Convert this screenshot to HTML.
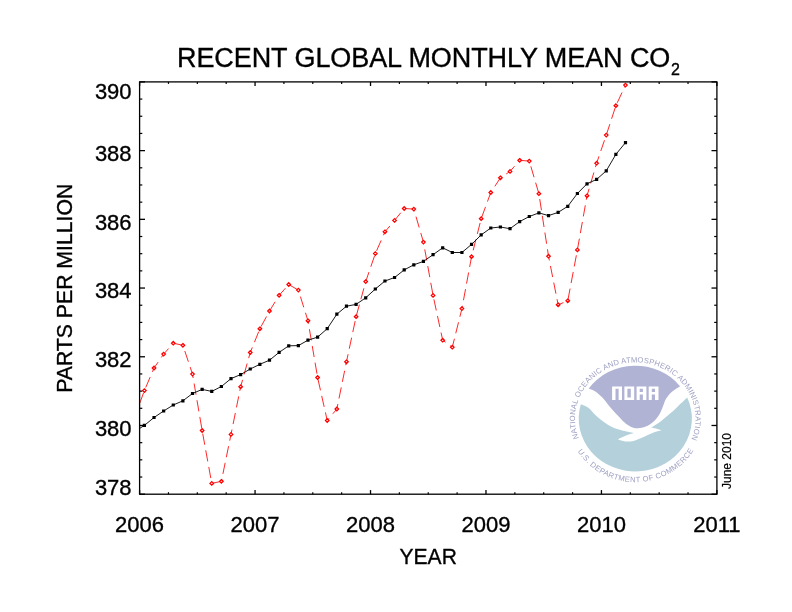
<!DOCTYPE html>
<html><head><meta charset="utf-8"><style>
html,body{margin:0;padding:0;background:#fff;}
svg{display:block;will-change:transform;}
</style></head><body>
<svg width="792" height="612" viewBox="0 0 792 612" font-family="Liberation Sans, sans-serif">
<rect width="792" height="612" fill="#fff"/>
<text x="177.0" y="67.2" font-size="27" letter-spacing="-0.08" fill="#000" stroke="#000" stroke-width="0.35">RECENT GLOBAL MONTHLY MEAN CO<tspan font-size="16" dy="7.8" dx="0.6">2</tspan></text>
<g>
<path d="M580.80 404.28C582.05 404.87 585.70 405.85 588.30 407.80C590.90 409.75 593.68 413.55 596.40 416.00C599.12 418.45 602.00 420.68 604.60 422.50C607.20 424.32 609.20 425.60 612.00 426.90C614.80 428.20 617.77 429.28 621.40 430.30C625.03 431.32 631.73 432.55 633.80 433.00C632.50 433.43 628.63 434.53 626.00 435.60C623.37 436.67 619.33 438.77 618.00 439.40C619.20 439.73 622.62 441.13 625.20 441.40C627.78 441.67 630.53 441.68 633.50 441.00C636.47 440.32 639.83 438.63 643.00 437.30C646.17 435.97 649.40 434.17 652.50 433.00C655.60 431.83 660.08 430.75 661.60 430.30C660.67 430.02 657.78 429.03 656.00 428.60C654.22 428.17 651.75 427.85 650.90 427.70C652.28 426.82 656.48 424.37 659.20 422.40C661.92 420.43 664.73 417.92 667.20 415.90C669.67 413.88 671.83 412.27 674.00 410.30C676.17 408.33 678.00 406.25 680.20 404.10C682.40 401.95 686.02 398.54 687.18 397.42A56.60 52.85 0 1 1 580.80 404.28Z" fill="#b3d0db"/>
<path d="M588.75 388.49A56.60 52.85 0 0 1 680.04 386.18C678.75 387.05 674.61 389.36 672.30 391.40C669.99 393.44 667.75 395.93 666.20 398.40C664.65 400.87 664.20 403.43 663.00 406.20C661.80 408.97 660.70 412.32 659.00 415.00C657.30 417.68 655.00 420.37 652.80 422.30C650.60 424.23 648.30 425.60 645.80 426.60C643.30 427.60 640.23 428.23 637.80 428.30C635.37 428.37 633.40 427.95 631.20 427.00C629.00 426.05 626.92 424.60 624.60 422.60C622.28 420.60 619.83 417.73 617.30 415.00C614.77 412.27 611.85 409.07 609.40 406.20C606.95 403.33 605.00 400.28 602.60 397.80C600.20 395.32 597.31 392.85 595.00 391.30C592.69 389.75 589.79 388.96 588.75 388.49Z" fill="#b0b3d4"/>
<path d="M612.10 386.40H622.00V400.10H618.60V388.80H615.50V400.10H612.10ZM624.40 386.40H634.20V400.10H624.40ZM627.40 388.80H630.80V397.40H627.40ZM636.60 386.40H646.40V400.10H642.90V394.60H639.70V400.10H636.60ZM639.70 388.80H642.90V391.90H639.70ZM648.70 386.40H658.50V400.10H655.00V394.60H651.80V400.10H648.70ZM651.80 388.80H655.00V391.90H651.80Z" fill="#fff" fill-rule="evenodd"/>
<defs><path id="ut" d="M578.82 438.23A60.30 56.20 0 1 1 691.59 438.69"/><path id="lt" d="M577.70 451.31A67.20 63.60 0 0 0 693.20 450.83"/></defs>
<g font-size="7.6" fill="#9ea0c3" font-family="Liberation Sans, sans-serif">
<text><textPath href="#ut" textLength="223.9" lengthAdjust="spacing">NATIONAL OCEANIC AND ATMOSPHERIC ADMINISTRATION</textPath></text>
<text><textPath href="#lt" textLength="136.9" lengthAdjust="spacing">U.S. DEPARTMENT OF COMMERCE</textPath></text>
</g>
</g>
<defs><clipPath id="pc"><rect x="139.60" y="81.90" width="577.30" height="412.30"/></clipPath></defs>
<g clip-path="url(#pc)">
<path d="M134.79 416.50L137.71 408.65M139.67 403.36L143.62 392.73M145.74 387.49L150.18 377.04M152.40 371.84L154.03 368.00L158.14 362.07M161.37 357.40L163.65 354.10L168.57 348.54M172.34 344.26L173.28 343.20L182.90 345.30L183.00 345.62M184.79 350.97L188.38 361.72M190.17 367.07L192.52 374.10L193.18 377.96M194.12 383.51L196.03 394.66M196.97 400.21L198.88 411.36M199.82 416.91L201.72 428.06M202.71 433.60L204.73 444.73M205.74 450.27L207.76 461.40M208.77 466.94L210.79 478.07M211.98 483.35L221.38 481.30L221.78 479.39M222.91 473.87L225.18 462.79M226.31 457.27L228.59 446.19M229.72 440.67L231.01 434.40L231.98 429.58M233.10 424.06L235.34 412.97M236.45 407.45L238.69 396.36M239.81 390.84L240.63 386.80L242.57 379.87M244.09 374.44L247.15 363.54M248.68 358.11L250.25 352.50L252.32 347.39M254.45 342.16L258.72 331.64M261.10 326.52L266.51 316.52M269.20 311.53L269.49 311.00L275.13 301.80M278.09 296.97L279.11 295.30L285.42 288.22M289.37 284.87L298.36 290.10L298.70 291.18M300.38 296.56L303.77 307.37M305.46 312.76L307.98 320.80L308.46 323.66M309.41 329.21L311.30 340.36M312.24 345.91L314.13 357.06M315.07 362.61L316.97 373.76M318.00 379.29L320.47 390.34M321.70 395.84L324.17 406.88M325.41 412.38L327.22 420.50L329.16 418.18M332.82 413.81L336.84 409.00L337.87 403.99M338.99 398.47L341.25 387.39M342.37 381.87L344.63 370.78M345.76 365.26L346.47 361.80L348.09 354.19M349.26 348.68L351.63 337.62M352.80 332.11L355.16 321.04M356.40 315.55L359.40 304.63M360.89 299.19L363.88 288.27M365.37 282.83L365.71 281.60L368.98 272.09M370.81 266.75L374.50 256.03M376.57 250.78L381.16 240.39M383.44 235.22L384.95 231.80L389.90 225.94M393.58 221.58L394.57 220.40L400.79 212.71M404.48 208.52L413.82 209.10L414.44 211.24M416.02 216.65L419.19 227.53M420.77 232.94L423.44 242.10L423.76 243.86M424.76 249.40L426.77 260.53M427.77 266.07L429.78 277.20M430.78 282.74L432.79 293.87M433.92 299.39L436.29 310.45M437.48 315.96L439.85 327.02M441.04 332.53L442.68 340.20L445.54 342.28M450.18 345.66L452.30 347.20L454.42 338.72M455.78 333.25L458.52 322.26M459.88 316.80L461.93 308.60L462.45 305.78M463.48 300.24L465.54 289.12M466.56 283.58L468.63 272.46M469.65 266.92L471.55 256.70L471.77 255.81M473.16 250.35L475.93 239.37M477.32 233.91L480.10 222.93M481.61 217.51L485.52 206.86M487.46 201.56L490.79 192.50L491.72 191.08M494.83 186.33L500.41 177.80L501.43 177.12M506.21 173.94L510.03 171.40L514.55 166.19M518.28 161.89L519.66 160.30L529.13 161.09M530.83 166.37L534.04 177.24M535.64 182.65L538.84 193.51M539.73 199.07L541.45 210.25M542.30 215.81L544.02 226.99M544.88 232.55L546.60 243.73M547.46 249.29L548.52 256.20L549.36 260.44M550.45 265.96L552.65 277.06M553.74 282.59L555.94 293.69M557.04 299.21L558.14 304.80L563.46 302.59M567.97 299.74L570.07 288.62M571.11 283.09L573.21 271.97M574.26 266.44L576.36 255.32M577.41 249.79L579.39 238.65M580.37 233.11L582.35 221.97M583.34 216.43L585.32 205.29M586.31 199.75L587.01 195.80L589.08 188.79M590.67 183.38L593.88 172.52M595.48 167.11L596.63 163.20L598.98 156.33M600.81 150.99L604.48 140.27M606.31 134.93L609.83 124.16M611.59 118.80L615.11 108.03M617.23 102.80L622.04 92.50M624.43 87.38L625.49 85.10" fill="none" stroke="#ff0000" stroke-width="0.85"/>
<polyline points="134.79,431.50 144.41,425.40 154.03,417.50 163.65,411.00 173.28,405.00 182.90,400.80 192.52,393.50 202.14,389.40 211.76,391.40 221.38,386.50 231.01,378.60 240.63,374.60 250.25,369.00 259.87,364.30 269.49,360.20 279.11,352.40 288.74,345.80 298.36,345.60 307.98,340.20 317.60,337.10 327.22,328.70 336.84,314.20 346.47,306.20 356.09,304.40 365.71,297.80 375.33,289.00 384.95,281.00 394.57,277.50 404.20,269.90 413.82,264.80 423.44,261.40 433.06,254.70 442.68,247.80 452.30,252.50 461.93,252.50 471.55,244.40 481.17,234.90 490.79,228.00 500.41,227.00 510.03,228.70 519.66,221.60 529.28,216.50 538.90,212.90 548.52,215.60 558.14,212.40 567.76,206.30 577.39,193.50 587.01,183.80 596.63,179.40 606.25,170.80 615.87,154.40 625.49,142.60" fill="none" stroke="#000" stroke-width="0.9"/>
</g>
<path d="M144.41 388.85L146.16 390.60L144.41 392.35L142.66 390.60ZM154.03 366.25L155.78 368.00L154.03 369.75L152.28 368.00ZM163.65 352.35L165.40 354.10L163.65 355.85L161.90 354.10ZM173.28 341.45L175.03 343.20L173.28 344.95L171.53 343.20ZM182.90 343.55L184.65 345.30L182.90 347.05L181.15 345.30ZM192.52 372.35L194.27 374.10L192.52 375.85L190.77 374.10ZM202.14 428.75L203.89 430.50L202.14 432.25L200.39 430.50ZM211.76 481.65L213.51 483.40L211.76 485.15L210.01 483.40ZM221.38 479.55L223.13 481.30L221.38 483.05L219.63 481.30ZM231.01 432.65L232.76 434.40L231.01 436.15L229.26 434.40ZM240.63 385.05L242.38 386.80L240.63 388.55L238.88 386.80ZM250.25 350.75L252.00 352.50L250.25 354.25L248.50 352.50ZM259.87 327.05L261.62 328.80L259.87 330.55L258.12 328.80ZM269.49 309.25L271.24 311.00L269.49 312.75L267.74 311.00ZM279.11 293.55L280.86 295.30L279.11 297.05L277.36 295.30ZM288.74 282.75L290.49 284.50L288.74 286.25L286.99 284.50ZM298.36 288.35L300.11 290.10L298.36 291.85L296.61 290.10ZM307.98 319.05L309.73 320.80L307.98 322.55L306.23 320.80ZM317.60 375.75L319.35 377.50L317.60 379.25L315.85 377.50ZM327.22 418.75L328.97 420.50L327.22 422.25L325.47 420.50ZM336.84 407.25L338.59 409.00L336.84 410.75L335.09 409.00ZM346.47 360.05L348.22 361.80L346.47 363.55L344.72 361.80ZM356.09 314.95L357.84 316.70L356.09 318.45L354.34 316.70ZM365.71 279.85L367.46 281.60L365.71 283.35L363.96 281.60ZM375.33 251.85L377.08 253.60L375.33 255.35L373.58 253.60ZM384.95 230.05L386.70 231.80L384.95 233.55L383.20 231.80ZM394.57 218.65L396.32 220.40L394.57 222.15L392.82 220.40ZM404.20 206.75L405.95 208.50L404.20 210.25L402.45 208.50ZM413.82 207.35L415.57 209.10L413.82 210.85L412.07 209.10ZM423.44 240.35L425.19 242.10L423.44 243.85L421.69 242.10ZM433.06 293.65L434.81 295.40L433.06 297.15L431.31 295.40ZM442.68 338.45L444.43 340.20L442.68 341.95L440.93 340.20ZM452.30 345.45L454.05 347.20L452.30 348.95L450.55 347.20ZM461.93 306.85L463.68 308.60L461.93 310.35L460.18 308.60ZM471.55 254.95L473.30 256.70L471.55 258.45L469.80 256.70ZM481.17 216.95L482.92 218.70L481.17 220.45L479.42 218.70ZM490.79 190.75L492.54 192.50L490.79 194.25L489.04 192.50ZM500.41 176.05L502.16 177.80L500.41 179.55L498.66 177.80ZM510.03 169.65L511.78 171.40L510.03 173.15L508.28 171.40ZM519.66 158.55L521.41 160.30L519.66 162.05L517.91 160.30ZM529.28 159.35L531.03 161.10L529.28 162.85L527.53 161.10ZM538.90 191.95L540.65 193.70L538.90 195.45L537.15 193.70ZM548.52 254.45L550.27 256.20L548.52 257.95L546.77 256.20ZM558.14 303.05L559.89 304.80L558.14 306.55L556.39 304.80ZM567.76 299.05L569.51 300.80L567.76 302.55L566.01 300.80ZM577.39 248.15L579.14 249.90L577.39 251.65L575.64 249.90ZM587.01 194.05L588.76 195.80L587.01 197.55L585.26 195.80ZM596.63 161.45L598.38 163.20L596.63 164.95L594.88 163.20ZM606.25 133.35L608.00 135.10L606.25 136.85L604.50 135.10ZM615.87 103.95L617.62 105.70L615.87 107.45L614.12 105.70ZM625.49 83.35L627.24 85.10L625.49 86.85L623.74 85.10Z" fill="#fff" stroke="#ff0000" stroke-width="1.3"/>
<path d="M142.81 423.80h3.2v3.2h-3.2ZM152.43 415.90h3.2v3.2h-3.2ZM162.05 409.40h3.2v3.2h-3.2ZM171.68 403.40h3.2v3.2h-3.2ZM181.30 399.20h3.2v3.2h-3.2ZM190.92 391.90h3.2v3.2h-3.2ZM200.54 387.80h3.2v3.2h-3.2ZM210.16 389.80h3.2v3.2h-3.2ZM219.78 384.90h3.2v3.2h-3.2ZM229.41 377.00h3.2v3.2h-3.2ZM239.03 373.00h3.2v3.2h-3.2ZM248.65 367.40h3.2v3.2h-3.2ZM258.27 362.70h3.2v3.2h-3.2ZM267.89 358.60h3.2v3.2h-3.2ZM277.51 350.80h3.2v3.2h-3.2ZM287.14 344.20h3.2v3.2h-3.2ZM296.76 344.00h3.2v3.2h-3.2ZM306.38 338.60h3.2v3.2h-3.2ZM316.00 335.50h3.2v3.2h-3.2ZM325.62 327.10h3.2v3.2h-3.2ZM335.24 312.60h3.2v3.2h-3.2ZM344.87 304.60h3.2v3.2h-3.2ZM354.49 302.80h3.2v3.2h-3.2ZM364.11 296.20h3.2v3.2h-3.2ZM373.73 287.40h3.2v3.2h-3.2ZM383.35 279.40h3.2v3.2h-3.2ZM392.97 275.90h3.2v3.2h-3.2ZM402.60 268.30h3.2v3.2h-3.2ZM412.22 263.20h3.2v3.2h-3.2ZM421.84 259.80h3.2v3.2h-3.2ZM431.46 253.10h3.2v3.2h-3.2ZM441.08 246.20h3.2v3.2h-3.2ZM450.70 250.90h3.2v3.2h-3.2ZM460.33 250.90h3.2v3.2h-3.2ZM469.95 242.80h3.2v3.2h-3.2ZM479.57 233.30h3.2v3.2h-3.2ZM489.19 226.40h3.2v3.2h-3.2ZM498.81 225.40h3.2v3.2h-3.2ZM508.43 227.10h3.2v3.2h-3.2ZM518.06 220.00h3.2v3.2h-3.2ZM527.68 214.90h3.2v3.2h-3.2ZM537.30 211.30h3.2v3.2h-3.2ZM546.92 214.00h3.2v3.2h-3.2ZM556.54 210.80h3.2v3.2h-3.2ZM566.16 204.70h3.2v3.2h-3.2ZM575.79 191.90h3.2v3.2h-3.2ZM585.41 182.20h3.2v3.2h-3.2ZM595.03 177.80h3.2v3.2h-3.2ZM604.65 169.20h3.2v3.2h-3.2ZM614.27 152.80h3.2v3.2h-3.2ZM623.89 141.00h3.2v3.2h-3.2Z" fill="#000"/>
<rect x="139.60" y="81.90" width="577.30" height="412.30" fill="none" stroke="#000" stroke-width="1.3"/>
<g stroke="#000" stroke-linecap="butt">
<line x1="139.60" y1="81.90" x2="145.00" y2="81.90" stroke-width="1.3"/>
<line x1="716.90" y1="81.90" x2="711.50" y2="81.90" stroke-width="1.3"/>
<line x1="139.60" y1="99.08" x2="142.30" y2="99.08" stroke-width="1.2"/>
<line x1="716.90" y1="99.08" x2="714.20" y2="99.08" stroke-width="1.2"/>
<line x1="139.60" y1="116.26" x2="142.30" y2="116.26" stroke-width="1.2"/>
<line x1="716.90" y1="116.26" x2="714.20" y2="116.26" stroke-width="1.2"/>
<line x1="139.60" y1="133.44" x2="142.30" y2="133.44" stroke-width="1.2"/>
<line x1="716.90" y1="133.44" x2="714.20" y2="133.44" stroke-width="1.2"/>
<line x1="139.60" y1="150.62" x2="145.00" y2="150.62" stroke-width="1.3"/>
<line x1="716.90" y1="150.62" x2="711.50" y2="150.62" stroke-width="1.3"/>
<line x1="139.60" y1="167.80" x2="142.30" y2="167.80" stroke-width="1.2"/>
<line x1="716.90" y1="167.80" x2="714.20" y2="167.80" stroke-width="1.2"/>
<line x1="139.60" y1="184.97" x2="142.30" y2="184.97" stroke-width="1.2"/>
<line x1="716.90" y1="184.97" x2="714.20" y2="184.97" stroke-width="1.2"/>
<line x1="139.60" y1="202.15" x2="142.30" y2="202.15" stroke-width="1.2"/>
<line x1="716.90" y1="202.15" x2="714.20" y2="202.15" stroke-width="1.2"/>
<line x1="139.60" y1="219.33" x2="145.00" y2="219.33" stroke-width="1.3"/>
<line x1="716.90" y1="219.33" x2="711.50" y2="219.33" stroke-width="1.3"/>
<line x1="139.60" y1="236.51" x2="142.30" y2="236.51" stroke-width="1.2"/>
<line x1="716.90" y1="236.51" x2="714.20" y2="236.51" stroke-width="1.2"/>
<line x1="139.60" y1="253.69" x2="142.30" y2="253.69" stroke-width="1.2"/>
<line x1="716.90" y1="253.69" x2="714.20" y2="253.69" stroke-width="1.2"/>
<line x1="139.60" y1="270.87" x2="142.30" y2="270.87" stroke-width="1.2"/>
<line x1="716.90" y1="270.87" x2="714.20" y2="270.87" stroke-width="1.2"/>
<line x1="139.60" y1="288.05" x2="145.00" y2="288.05" stroke-width="1.3"/>
<line x1="716.90" y1="288.05" x2="711.50" y2="288.05" stroke-width="1.3"/>
<line x1="139.60" y1="305.23" x2="142.30" y2="305.23" stroke-width="1.2"/>
<line x1="716.90" y1="305.23" x2="714.20" y2="305.23" stroke-width="1.2"/>
<line x1="139.60" y1="322.41" x2="142.30" y2="322.41" stroke-width="1.2"/>
<line x1="716.90" y1="322.41" x2="714.20" y2="322.41" stroke-width="1.2"/>
<line x1="139.60" y1="339.59" x2="142.30" y2="339.59" stroke-width="1.2"/>
<line x1="716.90" y1="339.59" x2="714.20" y2="339.59" stroke-width="1.2"/>
<line x1="139.60" y1="356.77" x2="145.00" y2="356.77" stroke-width="1.3"/>
<line x1="716.90" y1="356.77" x2="711.50" y2="356.77" stroke-width="1.3"/>
<line x1="139.60" y1="373.95" x2="142.30" y2="373.95" stroke-width="1.2"/>
<line x1="716.90" y1="373.95" x2="714.20" y2="373.95" stroke-width="1.2"/>
<line x1="139.60" y1="391.12" x2="142.30" y2="391.12" stroke-width="1.2"/>
<line x1="716.90" y1="391.12" x2="714.20" y2="391.12" stroke-width="1.2"/>
<line x1="139.60" y1="408.30" x2="142.30" y2="408.30" stroke-width="1.2"/>
<line x1="716.90" y1="408.30" x2="714.20" y2="408.30" stroke-width="1.2"/>
<line x1="139.60" y1="425.48" x2="145.00" y2="425.48" stroke-width="1.3"/>
<line x1="716.90" y1="425.48" x2="711.50" y2="425.48" stroke-width="1.3"/>
<line x1="139.60" y1="442.66" x2="142.30" y2="442.66" stroke-width="1.2"/>
<line x1="716.90" y1="442.66" x2="714.20" y2="442.66" stroke-width="1.2"/>
<line x1="139.60" y1="459.84" x2="142.30" y2="459.84" stroke-width="1.2"/>
<line x1="716.90" y1="459.84" x2="714.20" y2="459.84" stroke-width="1.2"/>
<line x1="139.60" y1="477.02" x2="142.30" y2="477.02" stroke-width="1.2"/>
<line x1="716.90" y1="477.02" x2="714.20" y2="477.02" stroke-width="1.2"/>
<line x1="139.60" y1="494.20" x2="145.00" y2="494.20" stroke-width="1.3"/>
<line x1="716.90" y1="494.20" x2="711.50" y2="494.20" stroke-width="1.3"/>
<line x1="139.60" y1="494.20" x2="139.60" y2="490.10" stroke-width="1.3"/>
<line x1="139.60" y1="81.90" x2="139.60" y2="86.00" stroke-width="1.3"/>
<line x1="168.47" y1="494.20" x2="168.47" y2="492.20" stroke-width="1.2"/>
<line x1="168.47" y1="81.90" x2="168.47" y2="83.90" stroke-width="1.2"/>
<line x1="197.33" y1="494.20" x2="197.33" y2="492.20" stroke-width="1.2"/>
<line x1="197.33" y1="81.90" x2="197.33" y2="83.90" stroke-width="1.2"/>
<line x1="226.19" y1="494.20" x2="226.19" y2="492.20" stroke-width="1.2"/>
<line x1="226.19" y1="81.90" x2="226.19" y2="83.90" stroke-width="1.2"/>
<line x1="255.06" y1="494.20" x2="255.06" y2="490.10" stroke-width="1.3"/>
<line x1="255.06" y1="81.90" x2="255.06" y2="86.00" stroke-width="1.3"/>
<line x1="283.92" y1="494.20" x2="283.92" y2="492.20" stroke-width="1.2"/>
<line x1="283.92" y1="81.90" x2="283.92" y2="83.90" stroke-width="1.2"/>
<line x1="312.79" y1="494.20" x2="312.79" y2="492.20" stroke-width="1.2"/>
<line x1="312.79" y1="81.90" x2="312.79" y2="83.90" stroke-width="1.2"/>
<line x1="341.65" y1="494.20" x2="341.65" y2="492.20" stroke-width="1.2"/>
<line x1="341.65" y1="81.90" x2="341.65" y2="83.90" stroke-width="1.2"/>
<line x1="370.52" y1="494.20" x2="370.52" y2="490.10" stroke-width="1.3"/>
<line x1="370.52" y1="81.90" x2="370.52" y2="86.00" stroke-width="1.3"/>
<line x1="399.38" y1="494.20" x2="399.38" y2="492.20" stroke-width="1.2"/>
<line x1="399.38" y1="81.90" x2="399.38" y2="83.90" stroke-width="1.2"/>
<line x1="428.25" y1="494.20" x2="428.25" y2="492.20" stroke-width="1.2"/>
<line x1="428.25" y1="81.90" x2="428.25" y2="83.90" stroke-width="1.2"/>
<line x1="457.12" y1="494.20" x2="457.12" y2="492.20" stroke-width="1.2"/>
<line x1="457.12" y1="81.90" x2="457.12" y2="83.90" stroke-width="1.2"/>
<line x1="485.98" y1="494.20" x2="485.98" y2="490.10" stroke-width="1.3"/>
<line x1="485.98" y1="81.90" x2="485.98" y2="86.00" stroke-width="1.3"/>
<line x1="514.85" y1="494.20" x2="514.85" y2="492.20" stroke-width="1.2"/>
<line x1="514.85" y1="81.90" x2="514.85" y2="83.90" stroke-width="1.2"/>
<line x1="543.71" y1="494.20" x2="543.71" y2="492.20" stroke-width="1.2"/>
<line x1="543.71" y1="81.90" x2="543.71" y2="83.90" stroke-width="1.2"/>
<line x1="572.58" y1="494.20" x2="572.58" y2="492.20" stroke-width="1.2"/>
<line x1="572.58" y1="81.90" x2="572.58" y2="83.90" stroke-width="1.2"/>
<line x1="601.44" y1="494.20" x2="601.44" y2="490.10" stroke-width="1.3"/>
<line x1="601.44" y1="81.90" x2="601.44" y2="86.00" stroke-width="1.3"/>
<line x1="630.30" y1="494.20" x2="630.30" y2="492.20" stroke-width="1.2"/>
<line x1="630.30" y1="81.90" x2="630.30" y2="83.90" stroke-width="1.2"/>
<line x1="659.17" y1="494.20" x2="659.17" y2="492.20" stroke-width="1.2"/>
<line x1="659.17" y1="81.90" x2="659.17" y2="83.90" stroke-width="1.2"/>
<line x1="688.03" y1="494.20" x2="688.03" y2="492.20" stroke-width="1.2"/>
<line x1="688.03" y1="81.90" x2="688.03" y2="83.90" stroke-width="1.2"/>
<line x1="716.90" y1="494.20" x2="716.90" y2="490.10" stroke-width="1.3"/>
<line x1="716.90" y1="81.90" x2="716.90" y2="86.00" stroke-width="1.3"/>
</g>
<g font-size="22" fill="#000" stroke="#000" stroke-width="0.35">
<text x="131.6" y="99.30" text-anchor="end">390</text>
<text x="131.6" y="161.02" text-anchor="end">388</text>
<text x="131.6" y="229.73" text-anchor="end">386</text>
<text x="131.6" y="298.45" text-anchor="end">384</text>
<text x="131.6" y="367.17" text-anchor="end">382</text>
<text x="131.6" y="435.88" text-anchor="end">380</text>
<text x="131.6" y="494.60" text-anchor="end">378</text>
<text x="139.60" y="532.4" text-anchor="middle">2006</text>
<text x="255.06" y="532.4" text-anchor="middle">2007</text>
<text x="370.52" y="532.4" text-anchor="middle">2008</text>
<text x="485.98" y="532.4" text-anchor="middle">2009</text>
<text x="601.44" y="532.4" text-anchor="middle">2010</text>
<text x="716.90" y="532.4" text-anchor="middle">2011</text>
</g>
<text transform="translate(428.2,563.8) scale(0.935,1)" stroke="#000" stroke-width="0.35" font-size="22.5" text-anchor="middle">YEAR</text>
<text transform="translate(72.0,288.3) rotate(-90) scale(0.944,1)" stroke="#000" stroke-width="0.35" font-size="22.5" text-anchor="middle">PARTS PER MILLION</text>
<text transform="translate(731.0,461.0) rotate(-90)" stroke="#000" stroke-width="0.2" font-size="12" text-anchor="middle">June 2010</text>
</svg>
</body></html>
